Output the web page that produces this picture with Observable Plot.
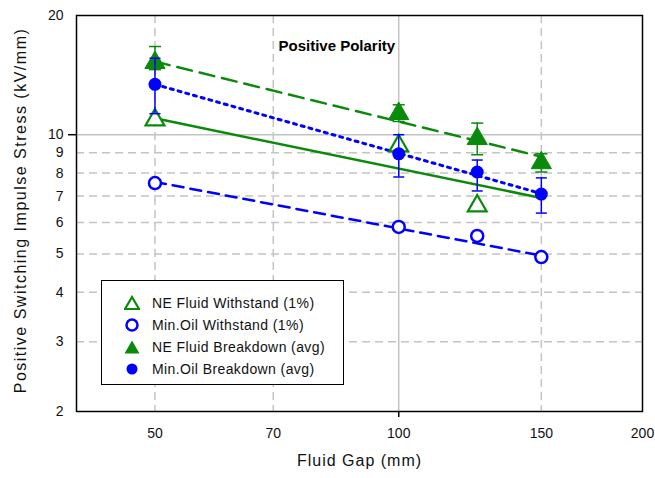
<!DOCTYPE html>
<html>
<head>
<meta charset="utf-8">
<script src="https://cdn.jsdelivr.net/npm/d3@7"></script>
<script src="https://cdn.jsdelivr.net/npm/@observablehq/plot@0.6"></script>
<style>
  body { margin: 0; background: #fff; font-family: "Liberation Sans", Arial, sans-serif; }
  #wrap { position: relative; width: 655px; height: 478px; }
  #legend { position: absolute; left: 101px; top: 280px; width: 243px; height: 105px;
            border: 1.5px solid #000; background: #fff; box-sizing: border-box; }
  .row { position: absolute; left: 0; height: 20px; display: flex; align-items: center;
         font-size: 14px; letter-spacing: 0.4px; color: #111; }
  .row svg { margin-left: 22px; margin-right: 12px; }
</style>
</head>
<body>
<div id="wrap"></div>
<script>
// ---- data ----
const gaps = [50, 100, 125, 150];
const neWithstandGaps = [50, 100, 125];
const neWithstand = [10.9, 9.37, 6.61];
const oilWithstand = [7.55, 5.85, 5.55, 4.91];
const neBreakdown = [15.2, 11.3, 9.77, 8.49];
const neBreakdownHi = [16.7, 11.9, 10.7, 8.95];
const neBreakdownLo = [14.6, 10.8, 8.9, 8.05];
const oilBreakdown = [13.4, 8.95, 8.05, 7.08];
const oilBreakdownHi = [15.6, 10.0, 8.63, 7.78];
const oilBreakdownLo = [11.3, 7.82, 7.21, 6.34];
const fitGaps = [50, 150];
const neWithstandFit = [11.0, 6.92];
const oilWithstandFit = [7.6, 4.95];
const neBreakdownFit = [15.3, 8.8];
const oilBreakdownFit = [13.4, 7.1];
const xTicks = [50, 70, 100, 150, 200];
const yTicks = [2, 3, 4, 5, 6, 7, 8, 9, 10, 20];
const xGridDashed = [50, 70, 150];
const xGridSolid = [100];
const yGridDashed = [3, 4, 5, 6, 7, 8, 9];
const yGridSolid = [10];
const xTitle = "Fluid Gap (mm)";
const yTitle = "Positive Switching Impulse Stress (kV/mm)";
const chartTitle = "Positive Polarity";
const legendLabels = ["NE Fluid Withstand (1%)", "Min.Oil Withstand (1%)", "NE Fluid Breakdown (avg)", "Min.Oil Breakdown (avg)"];

const GREEN = "#0a8a0a";
const BLUE = "#0000ff";
const GRID = "#c4c4c4";

const pts = (xs, ys) => xs.map((x, i) => ({x, y: ys[i]}));
const errs = (xs, lo, hi) => xs.map((x, i) => ({x, lo: lo[i], hi: hi[i]}));
const capSymbol = {
  draw(context, size) {
    const w = Math.sqrt(size / Math.PI);
    context.moveTo(-w, 0);
    context.lineTo(w, 0);
  }
};

const neBdErr = errs(gaps, neBreakdownLo, neBreakdownHi);
const oilBdErr = errs(gaps, oilBreakdownLo, oilBreakdownHi);

const chart = Plot.plot({
  width: 655,
  height: 478,
  marginLeft: 76,
  marginRight: 13,
  marginTop: 15,
  marginBottom: 67,
  style: {fontFamily: '"Liberation Sans", Arial, sans-serif', background: "#fff"},
  x: {type: "log", domain: [40, 200]},
  y: {type: "log", domain: [2, 20]},
  marks: [
    Plot.ruleX(xGridDashed, {stroke: GRID, strokeWidth: 1.5, strokeDasharray: "8,5"}),
    Plot.ruleX(xGridSolid, {stroke: GRID, strokeWidth: 1.5}),
    Plot.ruleY(yGridDashed, {stroke: GRID, strokeWidth: 1.5, strokeDasharray: "8,5"}),
    Plot.ruleY(yGridSolid, {stroke: GRID, strokeWidth: 1.5}),
    Plot.axisX(xTicks, {tickSize: 0, tickPadding: 17, fontSize: 14, tickFormat: d => String(d), label: null, fill: "#111"}),
    Plot.axisX([100], {tickSize: 6, tickFormat: () => "", label: null, strokeWidth: 1.5}),
    Plot.axisY(yTicks, {tickSize: 0, tickPadding: 13, fontSize: 14, tickFormat: d => String(d), label: null, fill: "#111"}),
    Plot.axisY([10], {tickSize: 8, tickFormat: () => "", label: null, strokeWidth: 1.5}),
    Plot.text([xTitle], {frameAnchor: "bottom", dy: 54, fontSize: 16, fill: "#111"}),
    Plot.text([yTitle], {frameAnchor: "left", dx: -56, dy: -3, rotate: -90, textAnchor: "middle", fontSize: 16, fill: "#111"}),
    Plot.text([chartTitle], {frameAnchor: "top-left", dx: 202, dy: 25, textAnchor: "start", fontSize: 15, fontWeight: "bold", fill: "#000"}),
    // fit lines
    Plot.line(pts(fitGaps, neWithstandFit), {x: "x", y: "y", stroke: GREEN, strokeWidth: 2.5}),
    Plot.line(pts(fitGaps, neBreakdownFit), {x: "x", y: "y", stroke: GREEN, strokeWidth: 2.5, strokeDasharray: "15,8"}),
    Plot.line(pts(fitGaps, oilWithstandFit), {x: "x", y: "y", stroke: BLUE, strokeWidth: 2.5, strokeDasharray: "11,7"}),
    Plot.line(pts(fitGaps, oilBreakdownFit), {x: "x", y: "y", stroke: BLUE, strokeWidth: 3, strokeDasharray: "3,5"}),
    // green markers and error bars
    Plot.dot(pts(neWithstandGaps, neWithstand), {x: "x", y: "y", symbol: "triangle", r: 7, stroke: GREEN, strokeWidth: 2.2, fill: "#fff"}),
    Plot.ruleX(neBdErr, {x: "x", y1: "lo", y2: "hi", stroke: GREEN, strokeWidth: 1.5}),
    Plot.dot(neBdErr, {x: "x", y: "hi", symbol: capSymbol, r: 6, stroke: GREEN, strokeWidth: 1.5}),
    Plot.dot(neBdErr, {x: "x", y: "lo", symbol: capSymbol, r: 6, stroke: GREEN, strokeWidth: 1.5}),
    Plot.dot(pts(gaps, neBreakdown), {x: "x", y: "y", symbol: "triangle", r: 7.5, fill: GREEN, stroke: GREEN, strokeWidth: 1}),
    // blue markers and error bars
    Plot.dot(pts(gaps, oilWithstand), {x: "x", y: "y", symbol: "circle", r: 6, stroke: BLUE, strokeWidth: 2.5, fill: "#fff"}),
    Plot.ruleX(oilBdErr, {x: "x", y1: "lo", y2: "hi", stroke: BLUE, strokeWidth: 1.5}),
    Plot.dot(oilBdErr, {x: "x", y: "hi", symbol: capSymbol, r: 5.5, stroke: BLUE, strokeWidth: 1.5}),
    Plot.dot(oilBdErr, {x: "x", y: "lo", symbol: capSymbol, r: 5.5, stroke: BLUE, strokeWidth: 1.5}),
    Plot.dot(pts(gaps, oilBreakdown), {x: "x", y: "y", symbol: "circle", r: 6.5, fill: BLUE}),
    Plot.frame({stroke: "#000", strokeWidth: 1.5})
  ]
});

// widen the axis titles' letter spacing as in the reference
d3.select(chart).selectAll("text").each(function () {
  const t = this.textContent;
  if (t === xTitle) this.style.letterSpacing = "1px";
  if (t === yTitle) this.style.letterSpacing = "1.5px";
  if (t === chartTitle) this.style.letterSpacing = "0px";
});

const wrap = document.getElementById("wrap");
wrap.appendChild(chart);

// legend
const legend = document.createElement("div");
legend.id = "legend";
const symbols = [
  `<polygon points="8,2 15,14 1,14" fill="#fff" stroke="${GREEN}" stroke-width="2.2"/>`,
  `<circle cx="8" cy="8" r="5.5" fill="#fff" stroke="${BLUE}" stroke-width="2.5"/>`,
  `<polygon points="8,1.5 15.5,14.5 0.5,14.5" fill="${GREEN}"/>`,
  `<circle cx="8" cy="8" r="5.5" fill="${BLUE}"/>`
];
legendLabels.forEach((label, i) => {
  const row = document.createElement("div");
  row.className = "row";
  row.style.top = (12 + i * 22) + "px";
  row.innerHTML = `<svg width="16" height="16">${symbols[i]}</svg><span>${label}</span>`;
  legend.appendChild(row);
});
wrap.appendChild(legend);
</script>
</body>
</html>
